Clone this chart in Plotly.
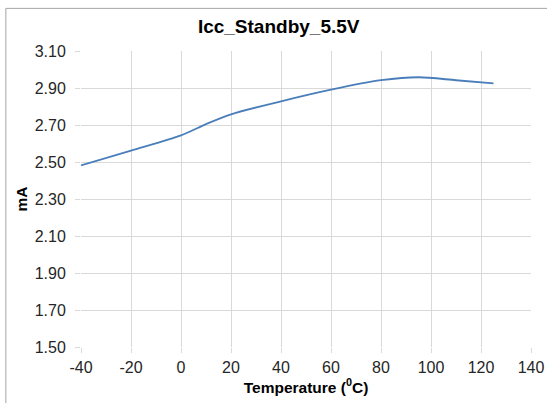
import plotly.graph_objects as go

# Icc standby current at 5.5V vs temperature
temperature = [-40, -20, 0, 10, 20, 40, 60, 80, 95, 110, 125]
icc_ma = [2.482, 2.562, 2.644, 2.705, 2.758, 2.828, 2.891, 2.942, 2.958, 2.942, 2.925]

x_ticks = [-40, -20, 0, 20, 40, 60, 80, 100, 120, 140]
y_ticks = [1.50, 1.70, 1.90, 2.10, 2.30, 2.50, 2.70, 2.90, 3.10]

FONT = "Liberation Sans, Arial, sans-serif"

fig = go.Figure()
fig.add_trace(go.Scatter(
    x=temperature, y=icc_ma,
    mode="lines",
    line=dict(color="#4a7ebb", width=1.8, shape="spline", smoothing=0.8),
    showlegend=False,
))

tick_font = dict(family=FONT, size=16, color="#262626")
title_font = dict(family=FONT, size=15.5, color="#000000")

fig.update_xaxes(
    range=[-40, 140], tickvals=x_ticks, ticktext=[str(v) for v in x_ticks],
    showgrid=True, gridcolor="#d9d9d9", gridwidth=1,
    zeroline=False, showline=False, automargin=False,
    ticks="outside", ticklen=5, tickcolor="#d9d9d9", ticklabelstandoff=1,
    tickfont=tick_font,
    title=dict(text="<b>Temperature (<sup>0</sup>C)</b>", font=title_font, standoff=6),
)
fig.update_yaxes(
    range=[1.50, 3.10], tickvals=y_ticks, ticktext=[f"{v:.2f}" for v in y_ticks],
    showgrid=True, gridcolor="#d9d9d9", gridwidth=1,
    zeroline=False, showline=False, automargin=False,
    ticks="outside", ticklen=5, tickcolor="#d9d9d9", ticklabelstandoff=6,
    tickfont=tick_font,
    title=dict(text="<b>mA</b>", font=title_font, standoff=3),
)

# outer chart frame
fig.add_shape(type="rect", xref="paper", yref="paper",
              x0=-0.167, x1=1.1, y0=-0.3, y1=1.144,
              line=dict(color="#a6a6a6", width=1), layer="below")

fig.update_layout(
    width=547, height=403,
    margin=dict(l=81, r=16, t=51, b=56),
    paper_bgcolor="white", plot_bgcolor="white",
    title=dict(text="<b>Icc_Standby_5.5V</b>", x=0.5095, xanchor="center",
               y=0.934, yanchor="middle",
               font=dict(family=FONT, size=19, color="#000000")),
)

# drop the default page margin so the figure sits at the window's corner
fig.write_html("out.html", config={"displayModeBar": False},
               post_script="document.body.style.margin='0';")
